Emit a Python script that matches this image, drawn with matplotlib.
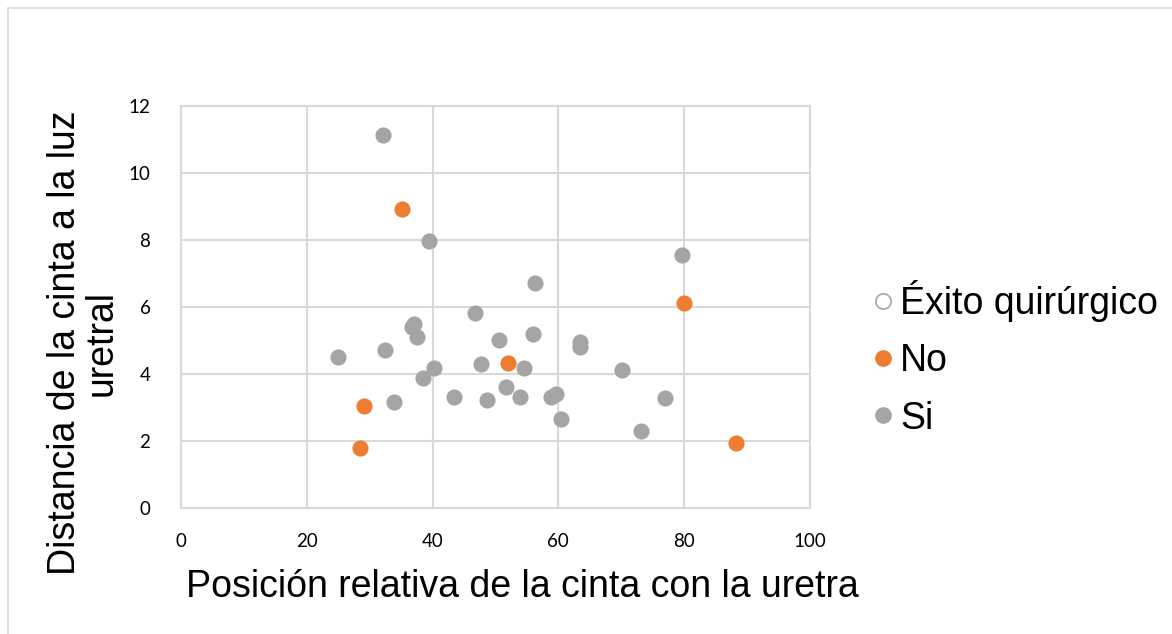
import matplotlib.pyplot as plt
from matplotlib.lines import Line2D
from matplotlib.patches import Rectangle

plt.rcParams['font.family'] = ['Liberation Sans', 'DejaVu Sans']

# exito quirurgico = Si
si_x = [32.2, 39.5, 46.8, 37.1, 36.7, 37.6, 32.4, 24.9, 50.5, 40.2,
        47.7, 38.5, 43.4, 48.6, 33.9, 79.7, 56.3, 56.0, 63.5, 63.5,
        54.5, 70.1, 51.6, 53.9, 58.9, 59.6, 60.4, 77.0, 73.2]
si_y = [11.14, 7.96, 5.81, 5.50, 5.39, 5.10, 4.71, 4.50, 5.01, 4.19,
        4.31, 3.87, 3.32, 3.22, 3.16, 7.55, 6.70, 5.19, 4.95, 4.81,
        4.19, 4.11, 3.61, 3.32, 3.32, 3.41, 2.67, 3.27, 2.31]

# exito quirurgico = No
no_x = [35.1, 29.1, 28.5, 80.0, 52.0, 88.3]
no_y = [8.91, 3.04, 1.80, 6.11, 4.33, 1.93]

orange = '#ED7D31'
gray = '#A5A5A5'

fig = plt.figure(figsize=(11.72, 6.34), dpi=100)
ax = fig.add_axes([0.1544, 0.1987, 0.5367, 0.6343])

ax.scatter(si_x, si_y, s=135, color=gray, zorder=3, linewidths=0)
ax.scatter(no_x, no_y, s=135, color=orange, zorder=3, linewidths=0)

ax.set_xlim(0, 100)
ax.set_ylim(0, 12)
ax.set_xticks(range(0, 101, 20))
ax.set_yticks(range(0, 13, 2))
ax.grid(True, color='#D9D9D9', linewidth=1.5, zorder=0)
for s in ax.spines.values():
    s.set_color('#D9D9D9')
    s.set_linewidth(1.5)
ax.tick_params(length=0, labelsize=13.5, colors='black')
ax.tick_params(axis='x', pad=18)
ax.tick_params(axis='y', pad=22)
for lab in ax.get_xticklabels() + ax.get_yticklabels():
    lab.set_family(['Lato', 'DejaVu Sans'])

ax.set_xlabel('Posición relativa de la cinta con la uretra', fontsize=27)
ax.xaxis.set_label_coords(0.542, -0.152)
ax.set_ylabel('Distancia de la cinta a la luz\nuretral', fontsize=27,
              linespacing=1.05)
ax.yaxis.set_label_coords(-0.097, 0.41)

handles = [
    Line2D([], [], marker='o', linestyle='none', markersize=11,
           markerfacecolor='white', markeredgecolor=gray, markeredgewidth=1.2),
    Line2D([], [], marker='o', linestyle='none', markersize=11,
           markerfacecolor=orange, markeredgecolor=orange),
    Line2D([], [], marker='o', linestyle='none', markersize=11,
           markerfacecolor=gray, markeredgecolor=gray),
]
fig.legend(handles, ['Éxito quirúrgico', 'No', 'Si'], loc='center left',
           bbox_to_anchor=(0.712, 0.435), frameon=False, fontsize=27,
           handletextpad=0.05, labelspacing=0.57, handlelength=0.8)

# thin border around the whole chart
fig.add_artist(Rectangle((0.007, -0.01), 1.2, 0.997, transform=fig.transFigure,
                         fill=False, edgecolor='#D9D9D9', linewidth=1.2))

fig.savefig('out.png', dpi=100)
